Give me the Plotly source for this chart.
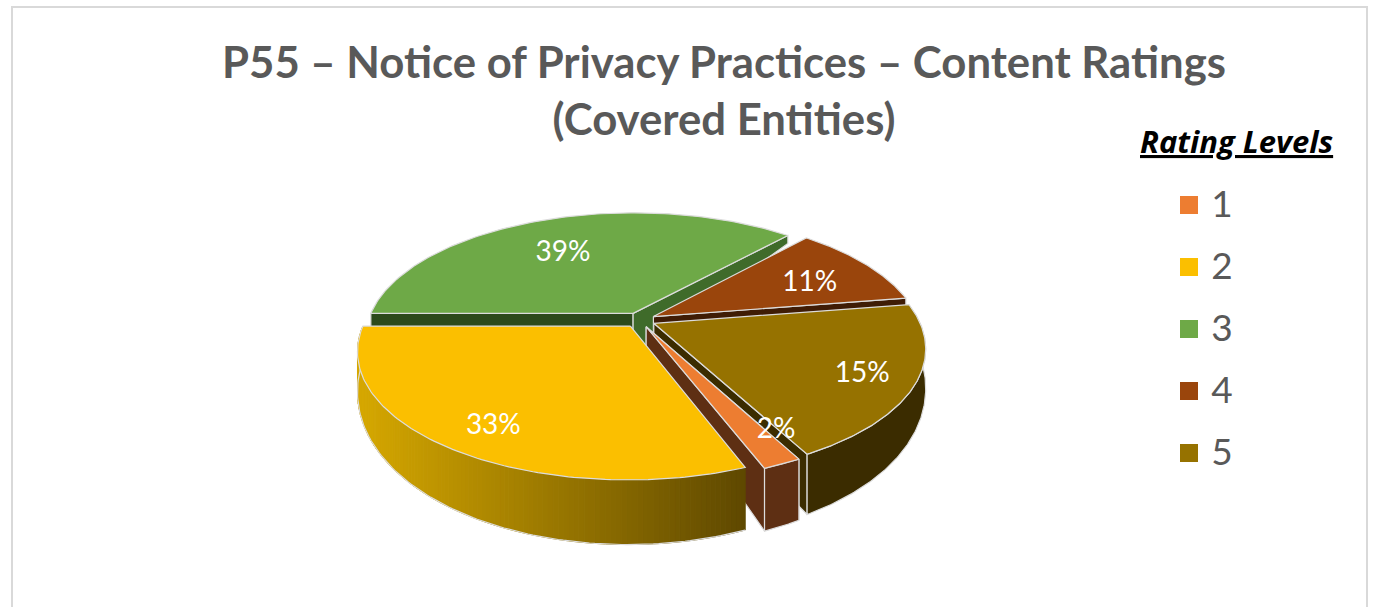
import numpy as np
import plotly.graph_objects as go

# ---- data ----
categories = ["1", "2", "3", "4", "5"]
percent_values = [2, 33, 39, 11, 15]
top_colors = ["#ED7D31", "#FBBF00", "#6EA947", "#9A450C", "#967200"]
wall_colors = ["#5E2F13", "#8a6a00", "#3F6B2A", "#3F1C05", "#3B2C00"]
chart_title = "<b>P55 – Notice of Privacy Practices – Content Ratings<br>(Covered Entities)</b>"
legend_title = "<b><i><u>Rating Levels</u></i></b>"

# ---- projection of the tilted pie (layout constants) ----
W, H = 1373, 607
CX, CY, A, B, K = 639.5, 320.0, 265.0, 122.0, 0.19
PULL = 0.06
START = 144.0
VISUAL_BOUNDS = [152.0, 159.0, 270.0, 402.0, 441.0, 512.0]
LABEL_RADIUS = [0.81, 0.81, 0.66, 0.71, 0.81]
LABEL_ANGLE_OFFSET = [-6.5, -1.5, -3.0, 1.5, 0.0]
LABEL_DY = 4
EDGE = "#DCDCDC"

nominal_bounds = START + np.concatenate([[0], np.cumsum(percent_values)]) * 360.0 / sum(percent_values)


def warp(t):
    return np.interp(t, nominal_bounds, VISUAL_BOUNDS)


def project(u, v):
    s = 1.0 / (1.0 - K * v)
    return CX + A * u * s, CY + B * v * s


def depth(v):
    return np.maximum(32.5 + 30.6 * v, 8.0)


def disc(theta_deg, r, mid_deg):
    t, m = np.radians(theta_deg), np.radians(mid_deg)
    u = PULL * np.sin(m) + r * np.sin(t)
    v = -(PULL * np.cos(m) + r * np.cos(t))
    return u, v


def poly(fig, xs, ys, fill, line=EDGE, width=1.2):
    fig.add_trace(go.Scatter(x=list(xs), y=list(ys), mode="lines", fill="toself", fillcolor=fill,
                             line=dict(color=line, width=width), hoverinfo="skip", showlegend=False))


def radial_wall(fig, theta, mid, color, extra=0.0):
    u0, v0 = disc(theta, 0.0, mid)
    u1, v1 = disc(theta, 1.0, mid)
    x0, y0 = project(u0, v0)
    x1, y1 = project(u1, v1)
    poly(fig, [x0, x1, x1, x0, x0], [y0, y1, y1 + depth(v1), y0 + depth(v0) + extra, y0], color)


def arc_wall(fig, t0, t1, mid, color, gradient=False):
    th = np.linspace(t0, t1, 121)
    u, v = disc(th, 1.0, mid)
    x, y = project(u, v)
    yb = y + depth(v)
    if not gradient:
        poly(fig, np.r_[x, x[::-1], x[0]], np.r_[y, yb[::-1], y[0]], color)
        return
    for i in range(len(th) - 1):
        j = i + 1
        f = float(np.clip((0.5 * (x[i] + x[j]) - 360.0) / 388.0, 0, 1))
        c = "rgb(%d,%d,0)" % (214 + (94 - 214) * f, 168 + (72 - 168) * f)
        poly(fig, np.r_[x[i:j + 1], x[i:j + 1][::-1], x[i]], np.r_[y[i:j + 1], yb[i:j + 1][::-1], y[i]], c, line=c, width=1.0)
    fig.add_trace(go.Scatter(x=np.r_[x, x[-1]], y=np.r_[yb, y[-1]], mode="lines", line=dict(color=EDGE, width=1.2),
                             hoverinfo="skip", showlegend=False))


def top_face(fig, t0, t1, mid, color):
    th = np.linspace(t0, t1, 121)
    u, v = disc(th, 1.0, mid)
    x, y = project(u, v)
    ax, ay = project(*disc(mid, 0.0, mid))
    poly(fig, np.r_[ax, x, ax], np.r_[ay, y, ay], color)


fig = go.Figure()

# slice bounds in visual degrees
bounds = warp(nominal_bounds)
mids = [warp(0.5 * (nominal_bounds[i] + nominal_bounds[i + 1])) for i in range(len(percent_values))]

ORANGE, YELLOW, GREEN, BROWN, GOLD = 0, 1, 2, 3, 4

# green (back)
radial_wall(fig, bounds[GREEN], mids[GREEN], "#2C4A1B")
radial_wall(fig, bounds[GREEN + 1], mids[GREEN], wall_colors[GREEN], extra=10.0)
top_face(fig, bounds[GREEN], bounds[GREEN + 1], mids[GREEN], top_colors[GREEN])
# brown
radial_wall(fig, bounds[BROWN + 1], mids[BROWN], wall_colors[BROWN])
top_face(fig, bounds[BROWN], bounds[BROWN + 1], mids[BROWN], top_colors[BROWN])
# gold
radial_wall(fig, bounds[GOLD + 1], mids[GOLD], wall_colors[GOLD])
arc_wall(fig, bounds[GOLD], bounds[GOLD + 1], mids[GOLD], wall_colors[GOLD])
top_face(fig, bounds[GOLD], bounds[GOLD + 1], mids[GOLD], top_colors[GOLD])
# orange
radial_wall(fig, bounds[ORANGE], mids[ORANGE], wall_colors[ORANGE])
radial_wall(fig, bounds[ORANGE + 1], mids[ORANGE], wall_colors[ORANGE])
arc_wall(fig, bounds[ORANGE], bounds[ORANGE + 1], mids[ORANGE], wall_colors[ORANGE])
top_face(fig, bounds[ORANGE], bounds[ORANGE + 1], mids[ORANGE], top_colors[ORANGE])
# yellow (front)
arc_wall(fig, bounds[YELLOW], bounds[YELLOW + 1], mids[YELLOW], wall_colors[YELLOW], gradient=True)
top_face(fig, bounds[YELLOW], bounds[YELLOW + 1], mids[YELLOW], top_colors[YELLOW])

# percentage labels
lx, ly = [], []
for i in range(len(percent_values)):
    a_ = mids[i] + LABEL_ANGLE_OFFSET[i]
    px_, py_ = project(*disc(a_, LABEL_RADIUS[i], mids[i]))
    lx.append(px_)
    ly.append(py_ + LABEL_DY)
fig.add_trace(go.Scatter(x=lx, y=ly, mode="text", text=[f"{p}%" for p in percent_values],
                         textposition="middle center",
                         textfont=dict(family="Lato", size=28, color="white"),
                         hoverinfo="skip", showlegend=False))

# legend
LEG_X, LEG_Y0, LEG_DY, LEG_TEXT_DX, LEG_TEXT_DY = 1189, 205, 62, 33, 3
leg_y = [LEG_Y0 + i * LEG_DY for i in range(len(categories))]
fig.add_trace(go.Scatter(x=[LEG_X] * len(categories), y=leg_y, mode="markers",
                         marker=dict(symbol="square", size=18, color=top_colors, line=dict(width=0)),
                         hoverinfo="skip", showlegend=False))
fig.add_trace(go.Scatter(x=[LEG_X + LEG_TEXT_DX] * len(categories), y=[y + LEG_TEXT_DY for y in leg_y],
                         mode="text", text=categories, textposition="middle center",
                         textfont=dict(family="Lato", size=37, color="#595959"),
                         hoverinfo="skip", showlegend=False))

fig.add_annotation(x=723.5, y=89.5, xref="x", yref="y", text=chart_title, showarrow=False, align="center",
                   font=dict(family="Lato", size=43.7, color="#595959"))
fig.add_annotation(x=1236, y=141, xref="x", yref="y", text=legend_title, showarrow=False,
                   font=dict(family="Open Sans", size=31, color="black"))

fig.add_shape(type="rect", xref="x", yref="y", x0=12, y0=7, x1=1367, y1=640,
              line=dict(color="#D9D9D9", width=2), fillcolor="rgba(0,0,0,0)", layer="below")

fig.update_layout(width=W, height=H, margin=dict(l=0, r=0, t=0, b=0), paper_bgcolor="white", plot_bgcolor="white",
                  showlegend=False,
                  xaxis=dict(range=[0, W], visible=False, fixedrange=True),
                  yaxis=dict(range=[H, 0], visible=False, fixedrange=True))

fig.write_html("out.html", config={"displayModeBar": False},
               post_script="document.body.style.margin='0';document.documentElement.style.overflow='hidden';")
